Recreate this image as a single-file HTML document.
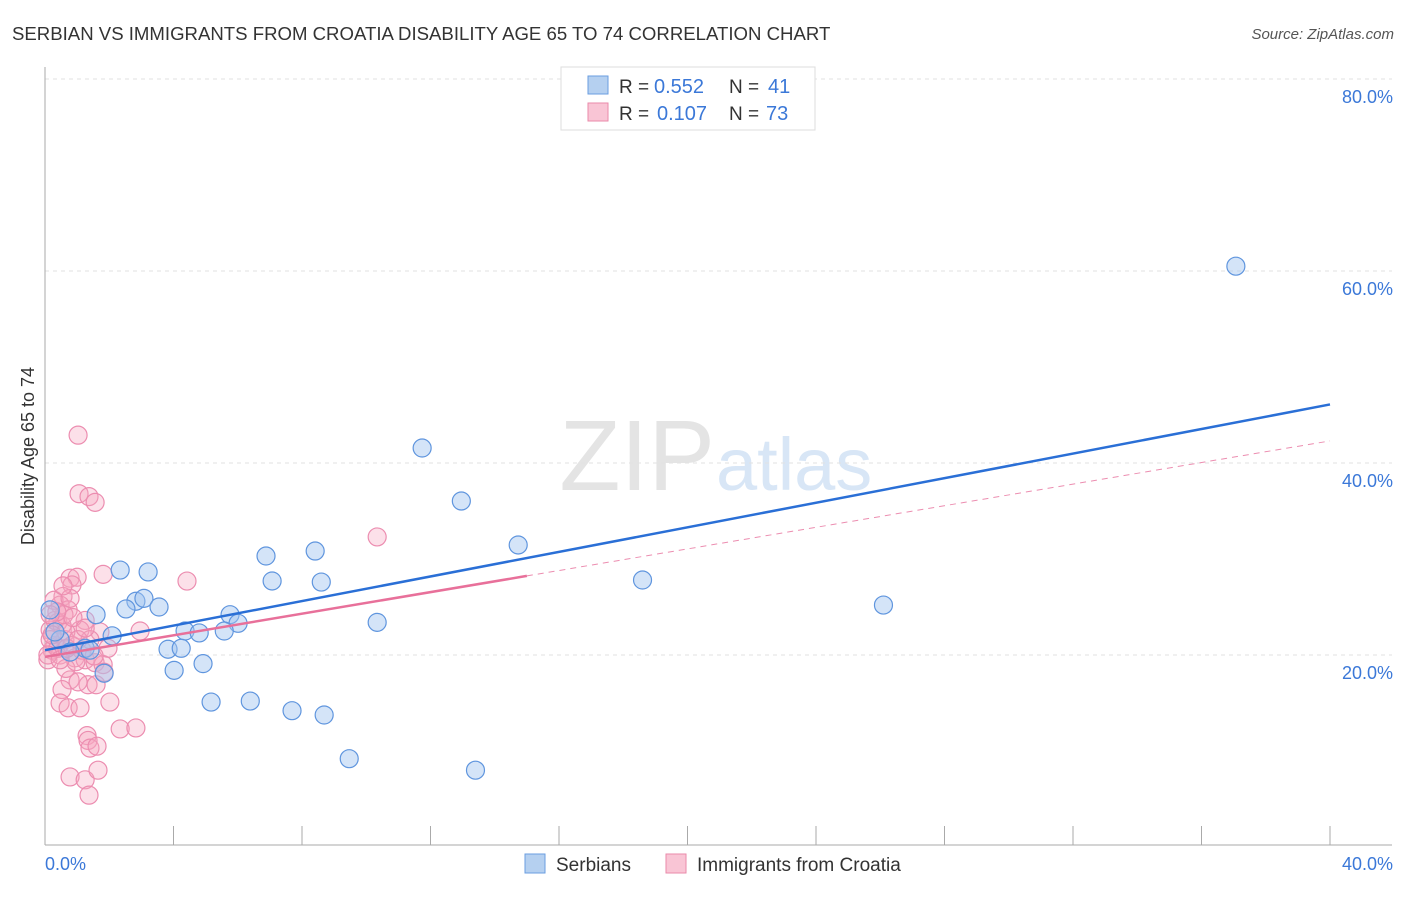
<!DOCTYPE html>
<html><head><meta charset="utf-8"><style>
body{margin:0;background:#fff;font-family:"Liberation Sans",sans-serif;}
svg text{font-family:"Liberation Sans",sans-serif;}
</style></head><body>
<svg id="chart" width="1406" height="892">
<text x="12" y="40" font-size="18.6" fill="#333">SERBIAN VS IMMIGRANTS FROM CROATIA DISABILITY AGE 65 TO 74 CORRELATION CHART</text>
<text x="1394" y="39" font-size="15" fill="#555" text-anchor="end" font-style="italic">Source: ZipAtlas.com</text>
<text x="715" y="490" font-size="100" fill="#e4e4e4" text-anchor="end" font-family="Liberation Serif">ZIP</text>
<text x="716" y="490" font-size="74" fill="#d8e6f6">atlas</text>
<g id="grid"></g>
<g id="axes"></g>
<g id="pts"></g>
<g id="lines"></g>
<text transform="translate(34,456) rotate(-90)" font-size="18" fill="#333" text-anchor="middle">Disability Age 65 to 74</text>
<text x="45" y="870" font-size="18" fill="#3b78d8">0.0%</text>
<text x="1393" y="870" font-size="18" fill="#3b78d8" text-anchor="end">40.0%</text>
<g>
<rect x="561" y="67" width="254" height="63" fill="#fff" stroke="#ddd"/>
<rect x="588" y="76" width="20" height="18" fill="#b5d0f0" stroke="#6a9ee0"/>
<rect x="588" y="103" width="20" height="18" fill="#f9c5d5" stroke="#ea8aaa"/>
<text x="619" y="93" font-size="19" fill="#333">R =</text>
<text x="654" y="93" font-size="20" fill="#3b78d8">0.552</text>
<text x="729" y="93" font-size="19" fill="#333">N =</text>
<text x="768" y="93" font-size="20" fill="#3b78d8">41</text>
<text x="619" y="120" font-size="19" fill="#333">R =</text>
<text x="657" y="120" font-size="20" fill="#3b78d8">0.107</text>
<text x="729" y="120" font-size="19" fill="#333">N =</text>
<text x="766" y="120" font-size="20" fill="#3b78d8">73</text>
</g>
<g>
<rect x="525" y="854" width="20" height="19" fill="#b5d0f0" stroke="#6a9ee0"/>
<text x="556" y="871" font-size="19" fill="#333">Serbians</text>
<rect x="666" y="854" width="20" height="19" fill="#f9c5d5" stroke="#ea8aaa"/>
<text x="697" y="871" font-size="19" fill="#333">Immigrants from Croatia</text>
</g>
</svg>
<script>
const yTicks=[20,40,60,80];
const xTicks=[0,4,8,12,16,20,24,28,32,36,40];
const blueX=[37.07,11.74,12.96,14.73,6.88,8.41,2.34,3.21,7.07,8.60,18.6,26.1,2.83,3.08,2.52,3.55,1.59,5.76,6.01,10.34,4.36,4.80,5.58,2.09,3.83,4.24,4.92,4.02,1.84,5.17,6.39,7.69,8.69,9.47,13.4,1.25,0.47,0.31,0.16,0.78,1.40];
const blueY=[60.5,41.56,36.04,31.46,30.31,30.83,28.85,28.65,27.71,27.6,27.81,25.2,25.6,25.9,24.8,25.0,24.2,24.2,23.3,23.4,22.5,22.3,22.5,22.0,20.6,20.7,19.1,18.4,18.1,15.1,15.2,14.2,13.75,9.2,8.0,20.7,21.6,22.4,24.7,20.3,20.5];
const pinkX=[1.03,1.06,1.37,1.56,10.34,4.42,1.81,0.78,1.0,0.84,0.56,0.47,0.72,0.40,1.25,1.71,2.96,1.96,1.09,0.62,0.31,0.16,0.22,0.09,0.47,0.93,1.25,1.56,1.81,0.78,1.34,1.59,0.53,1.03,2.02,0.47,0.72,1.09,2.34,2.83,1.31,1.34,1.40,1.62,0.78,1.25,1.65,1.37,0.31,0.53,0.65,0.16,0.40,0.84,1.15,0.09,0.28,0.59,0.87,1.40,1.84,0.65,0.96,0.22,0.47,0.68,1.03,1.25,1.53,0.37,0.78,0.16,0.56];
const pinkY=[42.9,36.8,36.5,35.9,32.3,27.7,28.4,28.0,28.1,27.3,26.1,25.2,24.7,23.4,23.6,22.4,22.5,20.7,22.6,21.6,21.0,22.6,20.5,19.5,20.0,19.7,19.5,19.2,19.0,17.4,16.9,16.9,16.4,17.2,15.1,15.0,14.5,14.5,12.3,12.4,11.6,11.1,10.3,10.5,7.3,7.0,8.0,5.4,23.6,23.1,22.4,21.6,20.7,21.0,20.5,20.0,25.7,24.2,23.9,21.6,18.2,18.6,19.3,22.1,19.5,20.7,21.6,22.8,19.9,24.5,25.9,24.2,27.2];
const blueTrend=[20.5,46.1];
const pinkTrend=[19.8,42.3];
const pinkSolidEnd=15.0;

const NS='http://www.w3.org/2000/svg';
const sx=v=>45+v*32.125;
const sy=v=>847-v*9.6;
function mk(tag,attrs,parent){const e=document.createElementNS(NS,tag);for(const k in attrs)e.setAttribute(k,attrs[k]);document.getElementById(parent).appendChild(e);return e;}

yTicks.forEach(t=>{
  const l=mk('line',{x1:45,x2:1392,y1:sy(t),y2:sy(t),stroke:'#e2e2e2','stroke-dasharray':'4,4'},'grid');
  
  
  const tx=mk('text',{x:1393,y:sy(t)+24,'font-size':18,fill:'#3b78d8','text-anchor':'end'},'grid');
  tx.textContent=t.toFixed(1)+'%';
  
  
});
const ya=mk('line',{x1:45,x2:45,y1:67,y2:845,stroke:'#aaa'},'axes');


const xa=mk('line',{x1:45,x2:1392,y1:845,y2:845,stroke:'#aaa'},'axes');


xTicks.forEach(t=>{
  const k=mk('line',{x1:sx(t),x2:sx(t),y1:826,y2:845,stroke:'#aaa'},'axes');
  
  
});
pinkX.forEach((v,i)=>{
  const c=mk('circle',{cx:sx(v),cy:sy(pinkY[i]),r:9,fill:'rgba(245,165,192,0.35)',stroke:'#ec8db0','stroke-width':1.2},'pts');
  
  
});
blueX.forEach((v,i)=>{
  const c=mk('circle',{cx:sx(v),cy:sy(blueY[i]),r:9,fill:'rgba(160,196,240,0.45)',stroke:'#5f95de','stroke-width':1.2},'pts');
  
  
});
const pAt=x=>pinkTrend[0]+(pinkTrend[1]-pinkTrend[0])*x/40;
const pd=mk('line',{x1:sx(pinkSolidEnd),y1:sy(pAt(pinkSolidEnd)),x2:sx(40),y2:sy(pinkTrend[1]),stroke:'#ec8db0','stroke-width':1,'stroke-dasharray':'6,5'},'lines');


const bl=mk('line',{x1:sx(0),y1:sy(blueTrend[0]),x2:sx(40),y2:sy(blueTrend[1]),stroke:'#2a6fd6','stroke-width':2.5},'lines');


const pl=mk('line',{x1:sx(0),y1:sy(pinkTrend[0]),x2:sx(pinkSolidEnd),y2:sy(pAt(pinkSolidEnd)),stroke:'#e8709a','stroke-width':2.5},'lines');


</script>
</body></html>
